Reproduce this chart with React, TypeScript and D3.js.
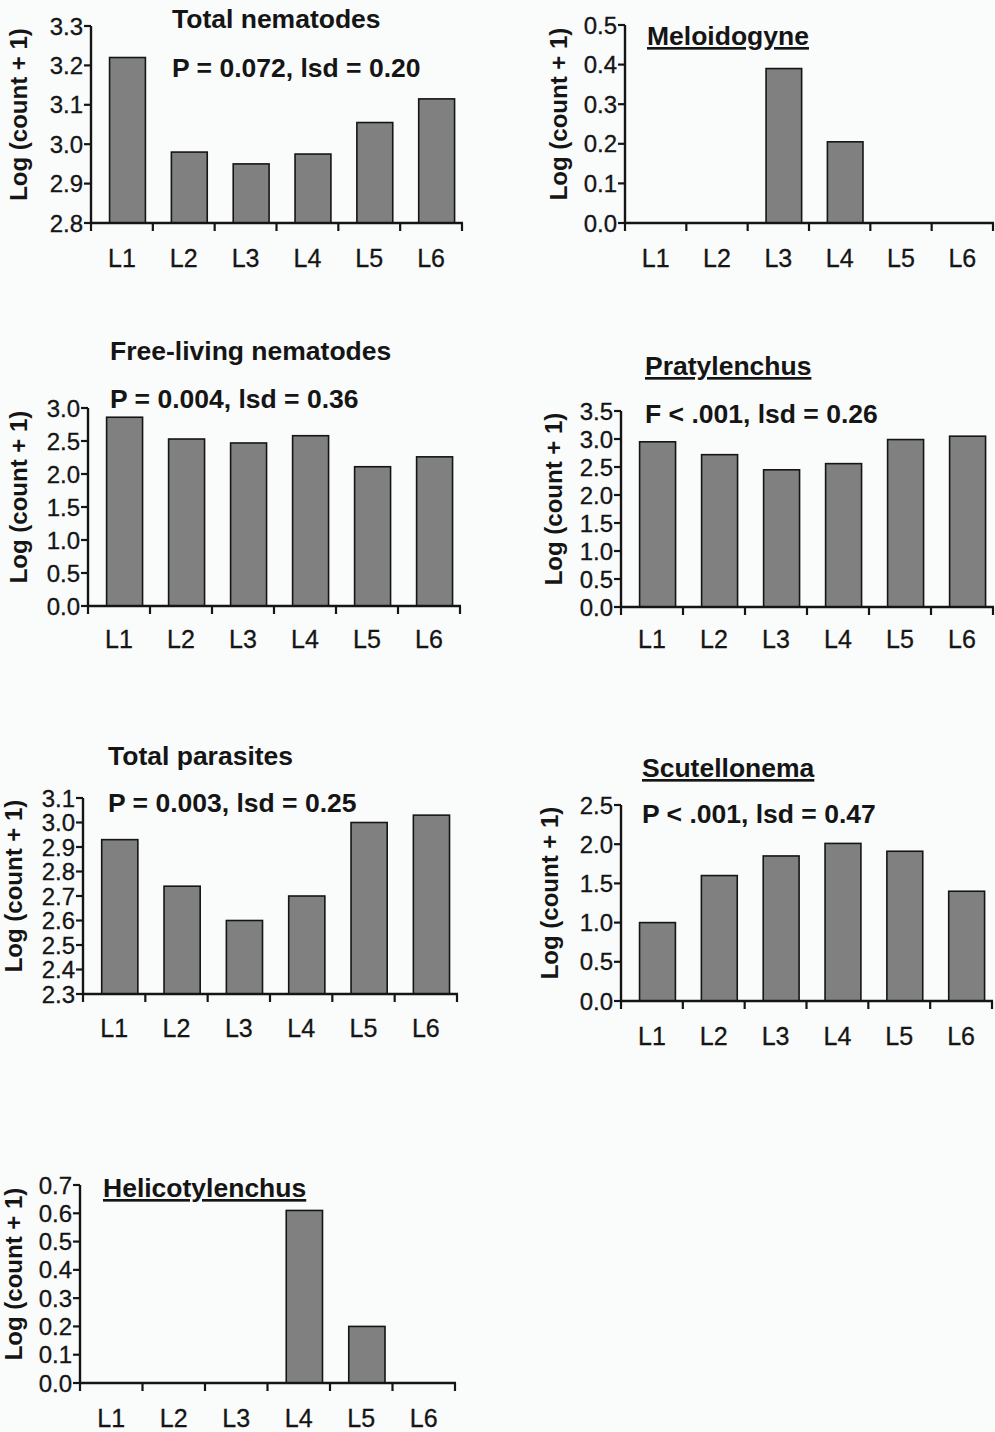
import React from 'react';
import * as d3 from 'd3';

const categories = ['L1', 'L2', 'L3', 'L4', 'L5', 'L6'];

const totalNematodes = [3.22, 2.98, 2.95, 2.975, 3.055, 3.115];
const meloidogyne = [0, 0, 0.39, 0.205, 0, 0];
const freeLiving = [2.86, 2.53, 2.47, 2.58, 2.11, 2.26];
const pratylenchus = [2.95, 2.72, 2.45, 2.56, 2.99, 3.05];
const totalParasites = [2.93, 2.74, 2.6, 2.7, 3.0, 3.03];
const scutellonema = [1.0, 1.6, 1.85, 2.01, 1.91, 1.4];
const helicotylenchus = [0, 0, 0, 0.61, 0.2, 0];

const ticksTotalNematodes = [2.8, 2.9, 3.0, 3.1, 3.2, 3.3];
const ticksMeloidogyne = [0.0, 0.1, 0.2, 0.3, 0.4, 0.5];
const ticksFreeLiving = [0.0, 0.5, 1.0, 1.5, 2.0, 2.5, 3.0];
const ticksPratylenchus = [0.0, 0.5, 1.0, 1.5, 2.0, 2.5, 3.0, 3.5];
const ticksTotalParasites = [2.3, 2.4, 2.5, 2.6, 2.7, 2.8, 2.9, 3.0, 3.1];
const ticksScutellonema = [0.0, 0.5, 1.0, 1.5, 2.0, 2.5];
const ticksHelicotylenchus = [0.0, 0.1, 0.2, 0.3, 0.4, 0.5, 0.6, 0.7];

const yAxisTitle = 'Log (count + 1)';

type PanelCfg = {
  title: string;
  underline: boolean;
  stats?: string;
  values: number[];
  ticks: number[];
  x0: number; x1: number; yTop: number; yBot: number;
  titleX: number; titleY: number; statsY?: number;
  yLabelX: number; xLabelY: number;
};

const panels: PanelCfg[] = [
  { title: 'Total nematodes', underline: false, stats: 'P = 0.072, lsd = 0.20', values: totalNematodes, ticks: ticksTotalNematodes,
    x0: 91, x1: 462, yTop: 26, yBot: 223, titleX: 172, titleY: 28, statsY: 77, yLabelX: 27, xLabelY: 267 },
  { title: 'Meloidogyne', underline: true, values: meloidogyne, ticks: ticksMeloidogyne,
    x0: 625, x1: 993, yTop: 25, yBot: 223, titleX: 647, titleY: 45, yLabelX: 567, xLabelY: 267 },
  { title: 'Free-living nematodes', underline: false, stats: 'P = 0.004, lsd = 0.36', values: freeLiving, ticks: ticksFreeLiving,
    x0: 88, x1: 460, yTop: 408, yBot: 606, titleX: 110, titleY: 360, statsY: 408, yLabelX: 27, xLabelY: 648 },
  { title: 'Pratylenchus', underline: true, stats: 'F < .001, lsd = 0.26', values: pratylenchus, ticks: ticksPratylenchus,
    x0: 621, x1: 993, yTop: 411, yBot: 607, titleX: 645, titleY: 375, statsY: 423, yLabelX: 562, xLabelY: 648 },
  { title: 'Total parasites', underline: false, stats: 'P = 0.003, lsd = 0.25', values: totalParasites, ticks: ticksTotalParasites,
    x0: 83, x1: 457, yTop: 798, yBot: 994, titleX: 108, titleY: 765, statsY: 812, yLabelX: 22, xLabelY: 1037 },
  { title: 'Scutellonema', underline: true, stats: 'P < .001, lsd = 0.47', values: scutellonema, ticks: ticksScutellonema,
    x0: 621, x1: 992, yTop: 805, yBot: 1001, titleX: 642, titleY: 777, statsY: 823, yLabelX: 558, xLabelY: 1045 },
  { title: 'Helicotylenchus', underline: true, values: helicotylenchus, ticks: ticksHelicotylenchus,
    x0: 80, x1: 455, yTop: 1185, yBot: 1383, titleX: 103, titleY: 1197, yLabelX: 22, xLabelY: 1427 },
];

const FONT = 'Arial, "Liberation Sans", Helvetica, sans-serif';
const INK = '#151515';

function Panel({ p }: { p: PanelCfg }) {
  const x = d3.scaleBand<string>().domain(categories).range([p.x0, p.x1]).padding(0);
  const ext = d3.extent(p.ticks) as [number, number];
  const y = d3.scaleLinear().domain(ext).range([p.yBot, p.yTop]);
  const bw = x.bandwidth();
  const barW = bw * 0.58;
  const shift = bw * 0.09;
  const fmt = d3.format('.1f');
  const boundaries = [...categories.map((c) => x(c) as number), p.x1];
  return (
    <g>
      {categories.map((c, i) => {
        const v = p.values[i];
        if (v <= ext[0]) return null;
        const bx = (x(c) as number) + (bw - barW) / 2 + shift;
        return (
          <rect key={c} x={bx} y={y(v)} width={barW} height={y(ext[0]) - y(v)}
            fill="#808080" stroke={INK} strokeWidth={1.6} />
        );
      })}
      <line x1={p.x0} x2={p.x0} y1={y(ext[1])} y2={y(ext[0])} stroke={INK} strokeWidth={2.4} />
      {p.ticks.map((t) => (
        <g key={t}>
          <line x1={p.x0 - 7} x2={p.x0} y1={y(t)} y2={y(t)} stroke={INK} strokeWidth={2.2} />
          <text x={p.x0 - 8} y={y(t)} dy="0.36em" textAnchor="end" fontSize={24} fontFamily={FONT} fill={INK}
            stroke={INK} strokeWidth={0.3}>
            {fmt(t)}
          </text>
        </g>
      ))}
      <line x1={p.x0 - 1} x2={p.x1 + 1} y1={y(ext[0])} y2={y(ext[0])} stroke={INK} strokeWidth={2.4} />
      {boundaries.map((bx, i) => (
        <line key={i} x1={bx} x2={bx} y1={y(ext[0])} y2={y(ext[0]) + 8} stroke={INK} strokeWidth={2.2} />
      ))}
      {categories.map((c) => (
        <text key={c} x={(x(c) as number) + bw / 2} y={p.xLabelY} textAnchor="middle" fontSize={25} fontFamily={FONT} fill={INK}
          stroke={INK} strokeWidth={0.3}>
          {c}
        </text>
      ))}
      <text transform={`translate(${p.yLabelX},${(p.yTop + p.yBot) / 2 - 10}) rotate(-90)`} textAnchor="middle"
        fontSize={24} fontWeight="bold" fontFamily={FONT} fill={INK}>
        {yAxisTitle}
      </text>
      <text x={p.titleX} y={p.titleY} fontSize={26.5} fontWeight="bold" fontFamily={FONT} fill={INK}
        style={p.underline ? { textDecoration: 'underline' } : undefined}>
        {p.title}
      </text>
      {p.stats && p.statsY !== undefined && (
        <text x={p.titleX} y={p.statsY} fontSize={26.5} fontWeight="bold" fontFamily={FONT} fill={INK}>
          {p.stats}
        </text>
      )}
    </g>
  );
}

export default function App() {
  return (
    <svg width={995} height={1432} viewBox="0 0 995 1432"
      style={{ position: 'absolute', left: 0, top: 0, display: 'block' }}>
      <rect x={0} y={0} width={995} height={1432} fill="#fafbfb" />
      {panels.map((p) => (
        <Panel key={p.title} p={p} />
      ))}
    </svg>
  );
}
